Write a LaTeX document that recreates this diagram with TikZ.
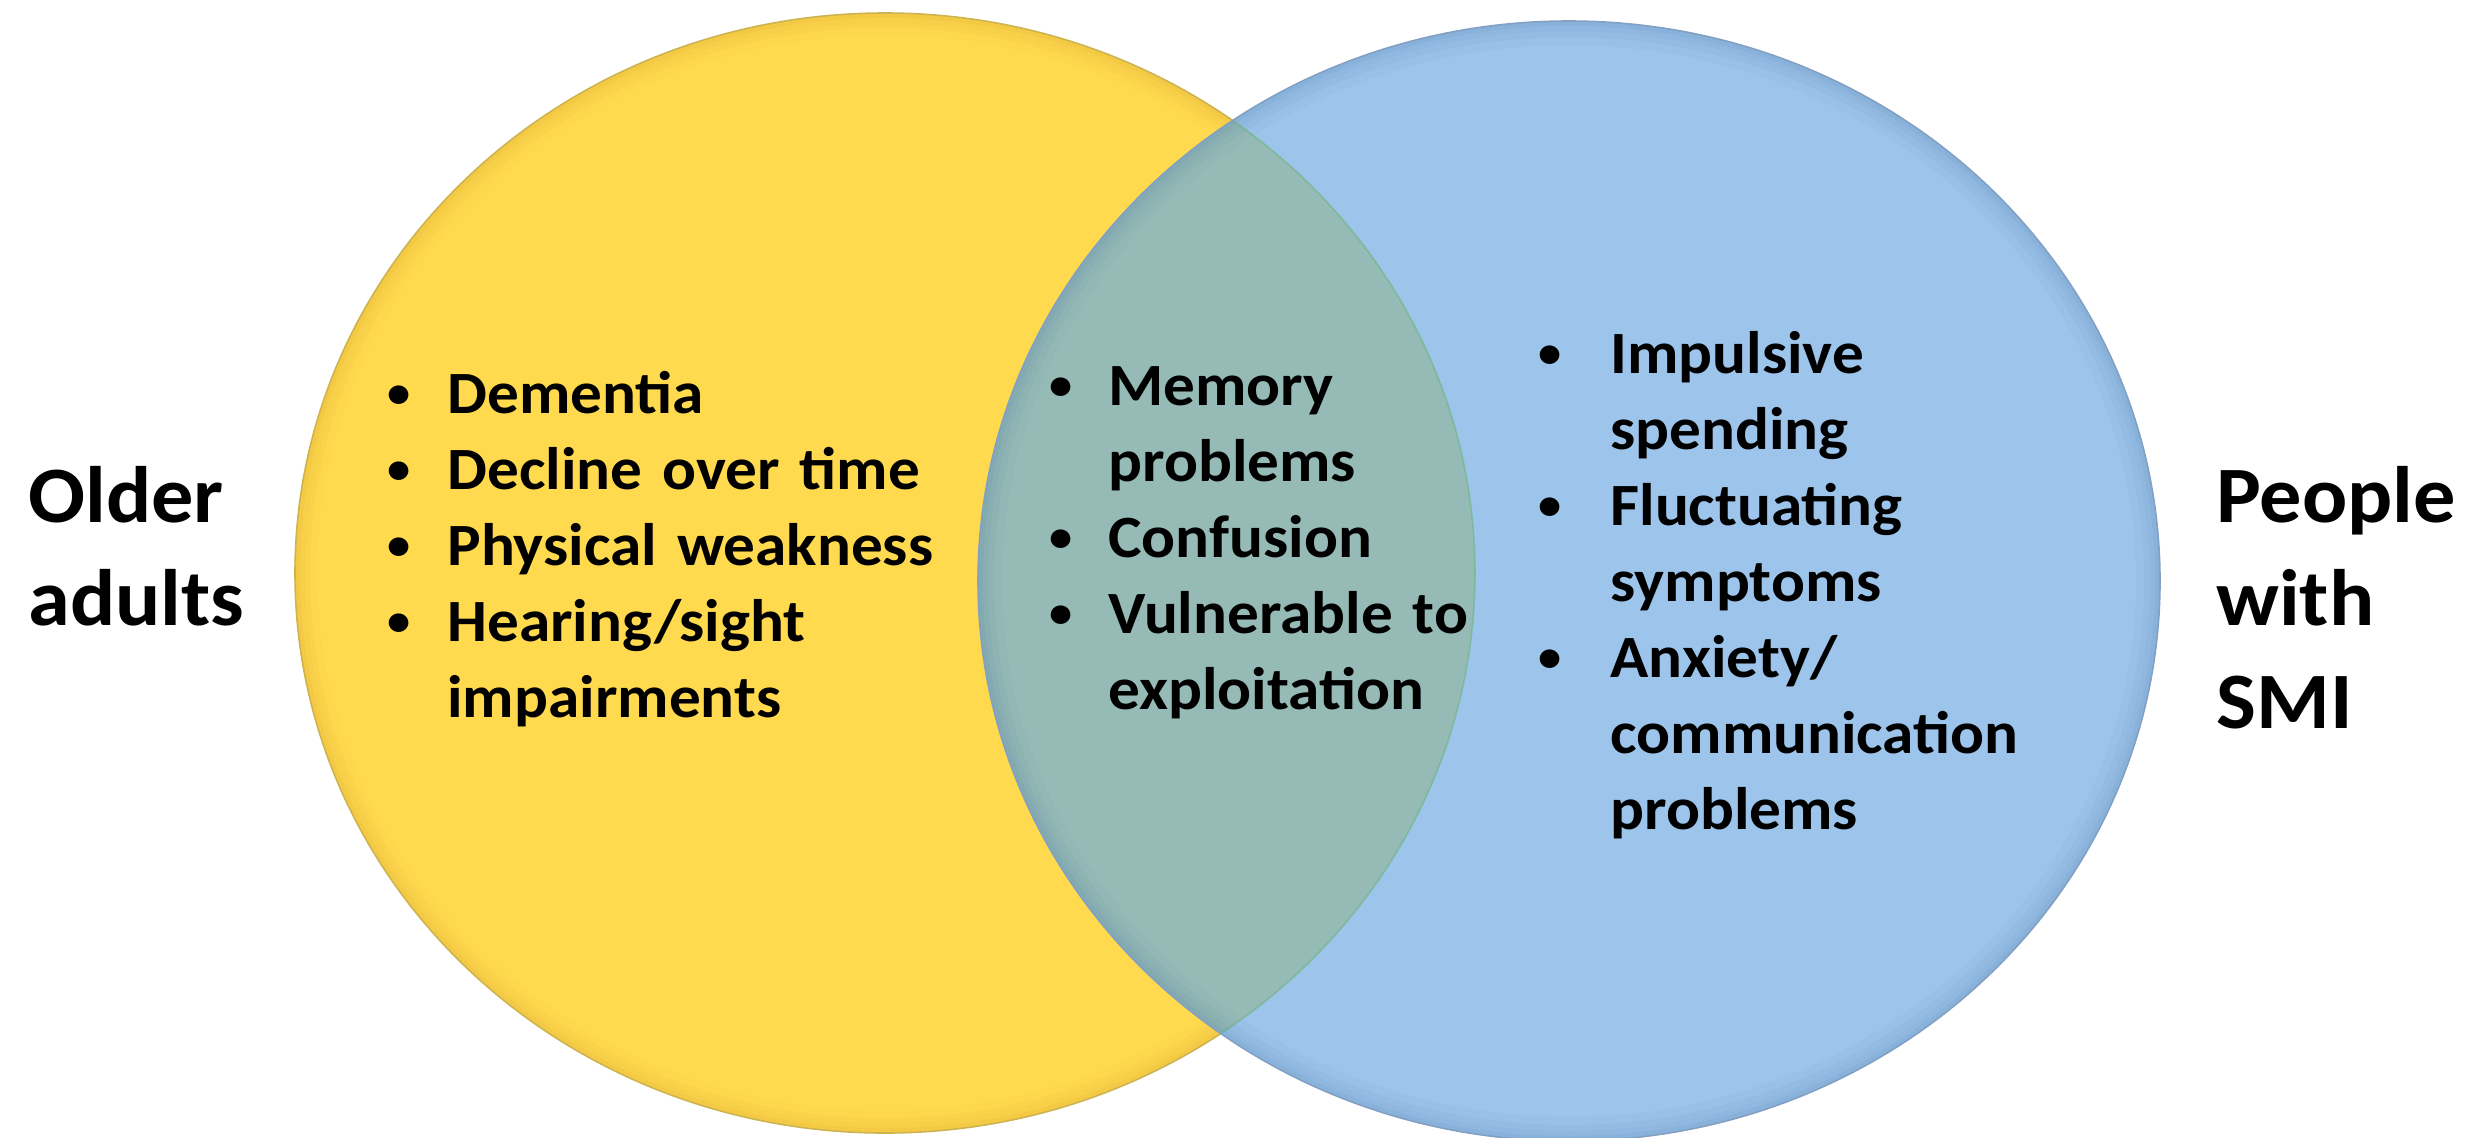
\documentclass[tikz,border=0pt]{standalone}
\usepackage{fontspec}
\setmainfont{Carlito}[FakeStretch=1.054]
\definecolor{yel}{RGB}{255,218,78}
\definecolor{blu}{RGB}{157,196,234}
\definecolor{ovl}{RGB}{150,186,181}
\definecolor{yelrim}{RGB}{205,150,40}
\definecolor{blurim}{RGB}{70,115,170}
\definecolor{yeledge}{RGB}{205,180,80}
\definecolor{bluedge}{RGB}{130,160,195}
\newcommand\bul{\raisebox{2.6pt}{\fontsize{22pt}{22pt}\selectfont •}}
\newcommand\itm[2]{\makebox[#1][l]{\bul}#2}
\tikzset{
  lst/.style={anchor=base west, inner sep=0pt, text width=600pt, align=left,
    font=\bfseries\fontsize{30pt}{38pt}\selectfont},
  ttl/.style={anchor=base west, inner sep=0pt, text width=200pt, align=left,
    font=\bfseries\fontsize{40pt}{51.5pt}\selectfont}
}
\begin{document}
\begin{tikzpicture}[x=0.5pt,y=-0.5pt]
\useasboundingbox (0,0) rectangle (2472,1137);
\clip (0,0) rectangle (2472,1137);
% yellow circle
\fill[yel] (885,573) ellipse [x radius=295pt, y radius=280pt];
\begin{scope}
  \clip (885,573) ellipse [x radius=295pt, y radius=280pt];
  \foreach \w/\o in {22pt/0.04,15pt/0.05,10pt/0.06,5pt/0.07}
    \draw[yelrim, line width=\w, opacity=\o] (885,573) ellipse [x radius=295pt, y radius=280pt];
\end{scope}
\draw[yeledge, line width=0.8pt] (885,573) ellipse [x radius=295pt, y radius=280pt];
% blue circle
\fill[blu] (1569,581) ellipse [x radius=295.5pt, y radius=280pt];
\begin{scope}
  \clip (885,573) ellipse [x radius=295pt, y radius=280pt];
  \fill[ovl] (1569,581) ellipse [x radius=295.5pt, y radius=280pt];
\end{scope}
\begin{scope}
  \clip (1569,581) ellipse [x radius=295.5pt, y radius=280pt];
  \foreach \w/\o in {24pt/0.04,16pt/0.05,10pt/0.06,5pt/0.07}
    \draw[blurim, line width=\w, opacity=\o] (1569,581) ellipse [x radius=295.5pt, y radius=280pt];
  \draw[green!40!gray, line width=0.8pt, opacity=0.35] (885,573) ellipse [x radius=295pt, y radius=280pt];
\end{scope}
\draw[bluedge, line width=0.8pt] (1569,581) ellipse [x radius=295.5pt, y radius=280pt];
% texts
\node[ttl] (older) at (28,522) {Older\\adults};
\node[ttl] (people) at (2216,522) {People\\with\\SMI};
\node[lst] (oldlist) at (387,413) {\itm{30pt}{Dementia}\\\itm{30pt}{Decline over time}\\\itm{30pt}{Physical weakness}\\\itm{30pt}{Hearing/sight}\\\hspace*{30pt}impairments};
\node[lst] (bothlist) at (1049,405) {\itm{29.5pt}{Memory}\\\hspace*{29.5pt}problems\\\itm{29.5pt}{Confusion}\\\itm{29.5pt}{Vulnerable to}\\\hspace*{29.5pt}exploitation};
\node[lst] (smilist) at (1538,373) {\itm{36pt}{Impulsive}\\\hspace*{36pt}spending\\\itm{36pt}{Fluctuating}\\\hspace*{36pt}symptoms\\\itm{36pt}{Anxiety/}\\\hspace*{36pt}communication\\\hspace*{36pt}problems};
\end{tikzpicture}
\end{document}
